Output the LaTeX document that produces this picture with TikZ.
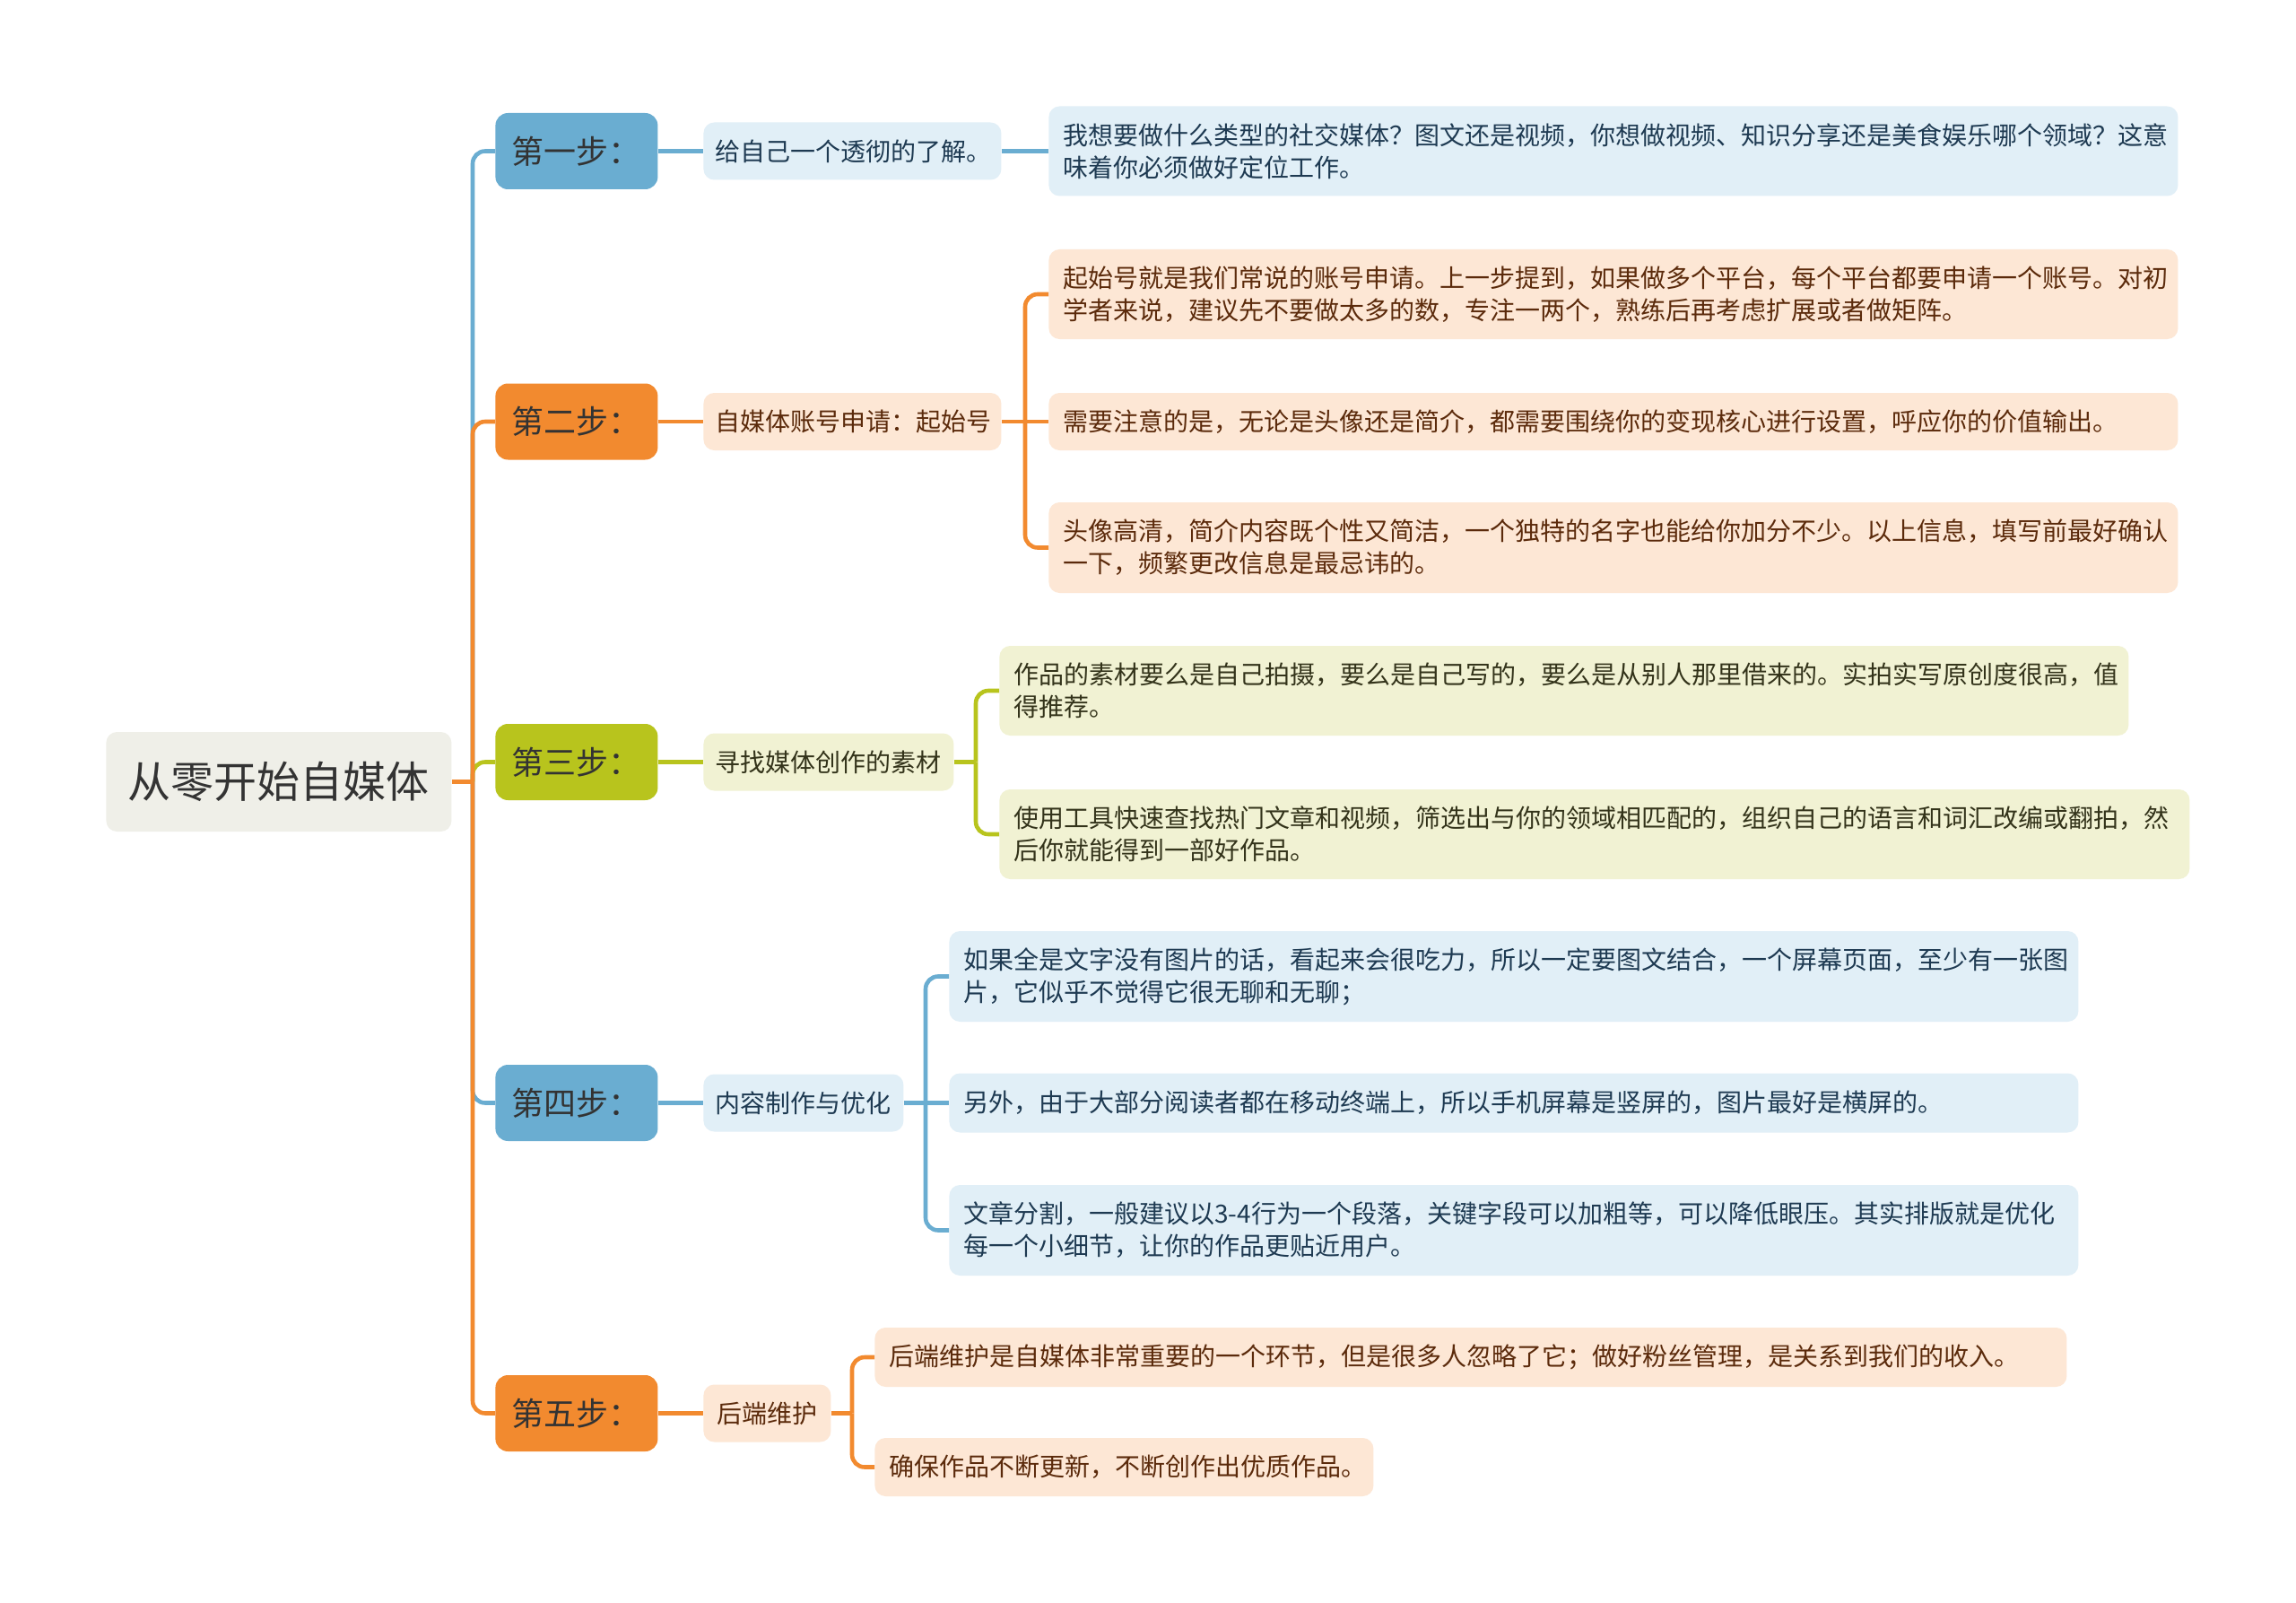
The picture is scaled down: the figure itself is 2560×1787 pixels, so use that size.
\documentclass[tikz,border=0pt]{standalone}
\usepackage{fontspec}
\newfontfamily\cjk{Noto Sans CJK SC}
\definecolor{cblue}{HTML}{6AADD1}
\definecolor{corange}{HTML}{F28A2F}
\definecolor{cgreen}{HTML}{B8C41D}
\definecolor{lblue}{HTML}{E1EFF7}
\definecolor{lorange}{HTML}{FDE7D5}
\definecolor{lgreen}{HTML}{F1F2D3}
\definecolor{rootfill}{HTML}{EFEFE8}
\definecolor{tblue}{HTML}{1E3A52}
\definecolor{torange}{HTML}{5B2A0B}
\definecolor{tgreen}{HTML}{33331A}
\definecolor{tdark}{HTML}{333333}
\tikzset{
  rootbox/.style={fill=rootfill, text=tdark, rounded corners=6pt, anchor=west, inner xsep=0pt, inner ysep=0pt,
    align=center, text width=192.5pt, minimum height=55.5pt, font=\cjk\fontsize{24}{28}\selectfont},
  stepbox/.style={rounded corners=7pt, anchor=west, inner xsep=9pt, inner ysep=0pt, text=tdark,
    align=left, text width=72.5pt, minimum height=42.5pt, font=\cjk\fontsize{18}{22}\selectfont},
  midbox/.style={rounded corners=6pt, anchor=west, inner xsep=6.5pt, inner ysep=0pt,
    align=center, minimum height=32pt, font=\cjk\fontsize{14}{18}\selectfont},
  leafbox/.style={rounded corners=6pt, anchor=west, inner xsep=8pt, inner ysep=0pt,
    align=left, font=\cjk\fontsize{14}{18}\selectfont},
  conn/.style={line width=2.3pt, rounded corners=7pt},
  bl/.style={fill=lblue, text=tblue},
  ol/.style={fill=lorange, text=torange},
  gl/.style={fill=lgreen, text=tgreen}
}
\begin{document}
\begin{tikzpicture}[x=0.5pt,y=-0.5pt]
\useasboundingbox (0,0) rectangle (2560,1787);
\fill[white] (0,0) rectangle (2560,1787);

% root
\node[rootbox] (root) at (118,871.5) {从零开始自媒体};

% steps
\node[stepbox, fill=cblue]   (s1) at (552,168.5) {第一步：};
\node[stepbox, fill=corange] (s2) at (552,470)   {第二步：};
\node[stepbox, fill=cgreen]  (s3) at (552,849.5) {第三步：};
\node[stepbox, fill=cblue]   (s4) at (552,1229.5){第四步：};
\node[stepbox, fill=corange] (s5) at (552,1575.5){第五步：};

% second level
\node[midbox, bl, text width=153pt]  (a1) at (784,168.5) {给自己一个透彻的了解。};
\node[midbox, ol, text width=153pt]  (a2) at (784,470)   {自媒体账号申请：起始号};
\node[midbox, gl, text width=126.5pt](a3) at (784,849.5) {寻找媒体创作的素材};
\node[midbox, bl, text width=98.5pt] (a4) at (784,1229.5){内容制作与优化};
\node[midbox, ol, text width=58pt]   (a5) at (784,1575.5){后端维护};

% leaves step 1
\node[leafbox, bl, text width=613.5pt, minimum height=50pt] (b1) at (1169,168.5)
  {我想要做什么类型的社交媒体？图文还是视频，你想做视频、知识分享还是美食娱乐哪个领域？这意\\味着你必须做好定位工作。};

% leaves step 2
\node[leafbox, ol, text width=613.5pt, minimum height=50pt] (b2) at (1169,328)
  {起始号就是我们常说的账号申请。上一步提到，如果做多个平台，每个平台都要申请一个账号。对初\\学者来说，建议先不要做太多的数，专注一两个，熟练后再考虑扩展或者做矩阵。};
\node[leafbox, ol, text width=613.5pt, minimum height=32pt] (b3) at (1169,470)
  {需要注意的是，无论是头像还是简介，都需要围绕你的变现核心进行设置，呼应你的价值输出。};
\node[leafbox, ol, text width=613.5pt, minimum height=50.5pt] (b4) at (1169,610.5)
  {头像高清，简介内容既个性又简洁，一个独特的名字也能给你加分不少。以上信息，填写前最好确认\\一下，频繁更改信息是最忌讳的。};

% leaves step 3
\node[leafbox, gl, text width=613.5pt, minimum height=50pt] (c1) at (1114,770)
  {作品的素材要么是自己拍摄，要么是自己写的，要么是从别人那里借来的。实拍实写原创度很高，值\\得推荐。};
\node[leafbox, gl, text width=647.5pt, minimum height=50pt] (c2) at (1114,930)
  {使用工具快速查找热门文章和视频，筛选出与你的领域相匹配的，组织自己的语言和词汇改编或翻拍，然\\后你就能得到一部好作品。};

% leaves step 4
\node[leafbox, bl, text width=613.5pt, minimum height=50.5pt] (d1) at (1058,1088.5)
  {如果全是文字没有图片的话，看起来会很吃力，所以一定要图文结合，一个屏幕页面，至少有一张图\\片，它似乎不觉得它很无聊和无聊；};
\node[leafbox, bl, text width=613.5pt, minimum height=33pt] (d2) at (1058,1229.5)
  {另外，由于大部分阅读者都在移动终端上，所以手机屏幕是竖屏的，图片最好是横屏的。};
\node[leafbox, bl, text width=613.5pt, minimum height=50.5pt] (d3) at (1058,1371.5)
  {文章分割，一般建议以3-4行为一个段落，关键字段可以加粗等，可以降低眼压。其实排版就是优化\\每一个小细节，让你的作品更贴近用户。};

% leaves step 5
\node[leafbox, ol, text width=648.5pt, minimum height=33pt] (e1) at (975,1513)
  {后端维护是自媒体非常重要的一个环节，但是很多人忽略了它；做好粉丝管理，是关系到我们的收入。};
\node[leafbox, ol, text width=262pt, minimum height=32.5pt] (e2) at (975,1635.5)
  {确保作品不断更新，不断创作出优质作品。};

% trunk connectors
\coordinate (J) at (527,871.5);
\draw[conn, cblue]   (J) |- (s1.west);
\draw[conn, cblue]   (J) |- (s4.west);
\draw[conn, cgreen]  (J) |- (s3.west);
\draw[conn, corange] (J) |- (s2.west);
\draw[conn, corange] (J) |- (s5.west);
\draw[conn, corange] (root.east) -- (J);

% step to second level
\draw[conn, cblue]   (s1.east) -- (a1.west);
\draw[conn, corange] (s2.east) -- (a2.west);
\draw[conn, cgreen]  (s3.east) -- (a3.west);
\draw[conn, cblue]   (s4.east) -- (a4.west);
\draw[conn, corange] (s5.east) -- (a5.west);

% second level to leaves
\draw[conn, cblue] (a1.east) -- (b1.west);

\coordinate (B2) at (1143,470);
\draw[conn, corange] (a2.east) -- (b3.west);
\draw[conn, corange] (B2) |- (b2.west);
\draw[conn, corange] (B2) |- (b4.west);

\coordinate (B3) at (1088,849.5);
\draw[conn, cgreen] (a3.east) -- (B3);
\draw[conn, cgreen] (B3) |- (c1.west);
\draw[conn, cgreen] (B3) |- (c2.west);

\coordinate (B4) at (1032,1229.5);
\draw[conn, cblue] (a4.east) -- (d2.west);
\draw[conn, cblue] (B4) |- (d1.west);
\draw[conn, cblue] (B4) |- (d3.west);

\coordinate (B5) at (950,1575.5);
\draw[conn, corange] (a5.east) -- (B5);
\draw[conn, corange] (B5) |- (e1.west);
\draw[conn, corange] (B5) |- (e2.west);
\end{tikzpicture}
\end{document}
